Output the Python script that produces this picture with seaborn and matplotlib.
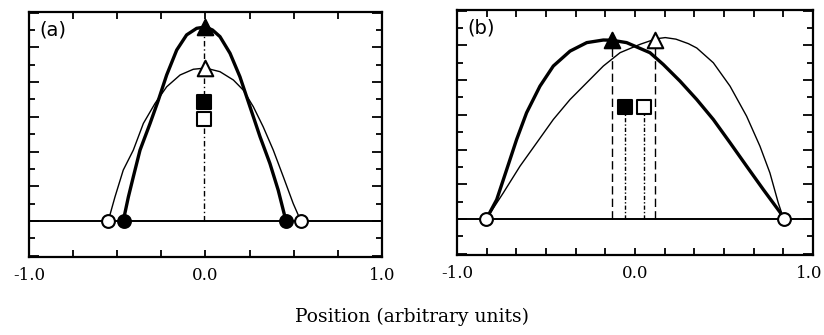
import numpy as np
import pandas as pd
import matplotlib
matplotlib.use("Agg")
import matplotlib.pyplot as plt
import matplotlib.transforms as mtransforms
import seaborn as sns

# ---- profile data, panel (a) ----
a_thick_x = [-0.466, -0.437, -0.409, -0.371, -0.314, -0.267, -0.220, -0.163, -0.107,
             -0.050, 0.0, 0.040, 0.082, 0.139, 0.195, 0.252, 0.309, 0.365, 0.412, 0.456]
a_thick_y = [0.0, 0.138, 0.254, 0.408, 0.562, 0.696, 0.841, 0.985, 1.072,
             1.110, 1.118, 1.100, 1.062, 0.966, 0.831, 0.658, 0.485, 0.331, 0.177, 0.0]
a_thin_x = [-0.551, -0.513, -0.466, -0.409, -0.352, -0.286, -0.220, -0.144, -0.069,
            0.0, 0.082, 0.158, 0.214, 0.271, 0.327, 0.384, 0.441, 0.497, 0.540]
a_thin_y = [0.0, 0.138, 0.293, 0.408, 0.562, 0.677, 0.773, 0.841, 0.874,
            0.881, 0.860, 0.812, 0.754, 0.658, 0.542, 0.408, 0.254, 0.100, 0.0]

# ---- profile data, panel (b) ----
b_thick_x = [-0.835, -0.777, -0.721, -0.665, -0.609, -0.534, -0.459, -0.365, -0.271,
             -0.178, -0.131, -0.047, 0.084, 0.159, 0.253, 0.347, 0.440, 0.534, 0.627,
             0.721, 0.815, 0.835]
b_thick_y = [0.0, 0.111, 0.284, 0.458, 0.612, 0.765, 0.881, 0.967, 1.016,
             1.031, 1.030, 1.016, 0.958, 0.890, 0.794, 0.688, 0.573, 0.439, 0.304,
             0.169, 0.038, 0.0]
b_thin_x = [-0.835, -0.740, -0.646, -0.552, -0.459, -0.365, -0.271, -0.178, -0.084,
            0.028, 0.118, 0.170, 0.230, 0.300, 0.347, 0.440, 0.534, 0.627, 0.702,
            0.758, 0.805, 0.835]
b_thin_y = [0.0, 0.150, 0.304, 0.439, 0.573, 0.688, 0.785, 0.881, 0.958,
            1.006, 1.038, 1.045, 1.036, 1.010, 0.985, 0.900, 0.765, 0.592, 0.419,
            0.265, 0.092, 0.0]

# ---- characteristic points ----
a_peak = {"filled": (0.0, 1.12), "open": (0.0, 0.88)}
a_centroid = {"filled": (-0.01, 0.687), "open": (-0.01, 0.587)}
a_edges = {"filled": [-0.462, 0.456], "open": [-0.551, 0.540]}

b_peak = {"filled": (-0.131, 1.03), "open": (0.114, 1.03)}
b_centroid = {"filled": (-0.054, 0.644), "open": (0.052, 0.644)}
b_edges = {"open": [-0.835, 0.835]}

tick_values = [-1.0, 0.0, 1.0]
tick_labels = ["-1.0", "0.0", "1.0"]
panel_names = ["(a)", "(b)"]
x_title = "Position (arbitrary units)"

sns.set_style("ticks")
plt.rcParams["axes.unicode_minus"] = False
plt.rcParams["font.family"] = ["DejaVu Serif"]
plt.rcParams["text.color"] = "black"
plt.rcParams["xtick.labelcolor"] = "black"
plt.rcParams["axes.labelcolor"] = "black"

fig = plt.figure(figsize=(8.24, 3.35), dpi=100)
ax_a = fig.add_axes([29 / 824, 78 / 335, 353 / 824, 245 / 335])
ax_b = fig.add_axes([457 / 824, 80 / 335, 356 / 824, 245 / 335])

THICK, THIN = 2.4, 1.0
TRI, SQ, CIRC = 125, 95, 85


def profile(ax, xs, ys, lw):
    df = pd.DataFrame({"x": xs, "y": ys})
    sns.lineplot(data=df, x="x", y="y", ax=ax, color="black", lw=lw,
                 sort=False, estimator=None, solid_joinstyle="round")


def marker(ax, x, y, shape, filled, size):
    df = pd.DataFrame({"x": [x], "y": [y]})
    sns.scatterplot(data=df, x="x", y="y", ax=ax, marker=shape, s=size,
                    color="black" if filled else "white", edgecolor="black",
                    linewidth=1.5, zorder=5)


def style_axes(ax, xticks, label):
    ax.set_xlim(-1.0, 1.0)
    ax.set_ylim(-0.208, 1.204)
    ax.axhline(0.0, color="black", lw=1.4, zorder=1)
    ax.set_xticks(xticks)
    ax.set_xticklabels([tick_labels[tick_values.index(round(t, 3))]
                        if round(t, 3) in tick_values else "" for t in xticks],
                       fontsize=12, color="black")
    ax.set_yticks(np.arange(-0.2, 1.21, 0.2))
    ax.set_yticks(np.arange(-0.1, 1.2, 0.2), minor=True)
    ax.set_yticklabels([])
    ax.tick_params(which="both", direction="in", top=True, right=True,
                   width=1.3, color="black", pad=7)
    ax.tick_params(axis="y", which="major", length=7)
    ax.tick_params(axis="y", which="minor", length=4)
    ax.tick_params(axis="x", which="major", length=5)
    for sp in ax.spines.values():
        sp.set_visible(True)
        sp.set_linewidth(1.6)
        sp.set_color("black")
    ax.set_xlabel("")
    ax.set_ylabel("")
    ax.text(0.03, 0.925, label, transform=ax.transAxes, fontsize=14,
            family="DejaVu Sans", ha="left", va="center", color="black")


# panel (a)
profile(ax_a, a_thin_x, a_thin_y, THIN)
profile(ax_a, a_thick_x, a_thick_y, THICK)
ax_a.plot([a_centroid["filled"][0]] * 2, [0.0, a_peak["filled"][1]], color="black",
          lw=1.0, ls=(0, (4, 2, 1, 2)), zorder=2)
marker(ax_a, *a_peak["filled"], "^", True, TRI)
marker(ax_a, *a_peak["open"], "^", False, TRI)
marker(ax_a, *a_centroid["filled"], "s", True, SQ)
marker(ax_a, *a_centroid["open"], "s", False, SQ)
for x in a_edges["filled"]:
    marker(ax_a, x, 0.0, "o", True, CIRC)
for x in a_edges["open"]:
    marker(ax_a, x, 0.0, "o", False, CIRC)
style_axes(ax_a, np.arange(-1.0, 1.01, 0.25), panel_names[0])

# panel (b)
profile(ax_b, b_thin_x, b_thin_y, THIN)
profile(ax_b, b_thick_x, b_thick_y, THICK)
for key in ("filled", "open"):
    px, py = b_peak[key]
    ax_b.plot([px, px], [0.0, py], color="black", lw=1.0, ls=(0, (6, 3)), zorder=2)
    cx, cy = b_centroid[key]
    ax_b.plot([cx, cx], [0.0, cy], color="black", lw=1.0,
              ls=(0, (3, 1.5, 1, 1.5)), zorder=2)
marker(ax_b, *b_peak["filled"], "^", True, TRI)
marker(ax_b, *b_peak["open"], "^", False, TRI)
marker(ax_b, *b_centroid["filled"], "s", True, 110)
marker(ax_b, *b_centroid["open"], "s", False, 110)
for x in b_edges["open"]:
    marker(ax_b, x, 0.0, "o", False, CIRC)
style_axes(ax_b, np.linspace(-1.0, 1.0, 13), panel_names[1])

# keep the right-most tick label inside the figure
last = ax_b.get_xticklabels()[-1]
last.set_transform(last.get_transform() +
                   mtransforms.ScaledTranslation(-4 / 100, 0, fig.dpi_scale_trans))

fig.text(412 / 824, 18 / 335, x_title, ha="center", va="center", fontsize=13.5,
         color="black")

fig.savefig("out.png", dpi=100)
